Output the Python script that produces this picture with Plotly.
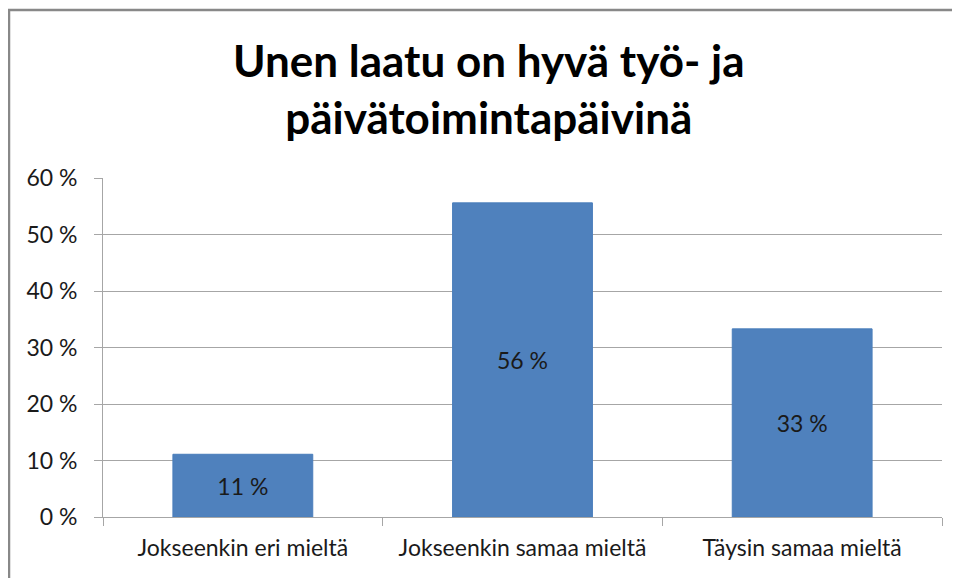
import plotly.graph_objects as go

categories = ["Jokseenkin eri mieltä", "Jokseenkin samaa mieltä", "Täysin samaa mieltä"]
values = [11.1, 55.6, 33.3]
value_labels = ["11 %", "56 %", "33 %"]
tick_vals = [0, 10, 20, 30, 40, 50, 60]
tick_text = ["0 %", "10 %", "20 %", "30 %", "40 %", "50 %", "60 %"]

# page is offset by 8px body margin
OFF = 8
W, H = 960, 578
ml, mr, mt, mb = 103 - OFF, 26, 178 - OFF, 69
pw, ph = W - ml - mr, H - mt - mb

def px_x(x):
    return (x - OFF - ml) / pw

def px_y(y):
    return (H - mb - (y - OFF)) / ph

FONT = "Lato, Open Sans, sans-serif"

fig = go.Figure(go.Bar(
    x=categories, y=values, text=value_labels, textposition="inside",
    insidetextanchor="middle", textangle=0,
    textfont=dict(family=FONT, size=23, color="#1a1a1a"),
    marker=dict(color="#4F81BD", line=dict(color="#4A7EBB", width=1)),
    width=0.5,
))

fig.update_layout(
    width=W, height=H,
    margin=dict(l=ml, r=mr, t=mt, b=mb, pad=0),
    paper_bgcolor="white", plot_bgcolor="white",
    showlegend=False,
    font=dict(family=FONT, size=23, color="#1a1a1a"),
    annotations=[dict(
        text="<b>Unen laatu on hyvä työ- ja<br>päivätoimintapäivinä</b>",
        xref="paper", yref="paper",
        x=px_x(489), y=px_y(32),
        xanchor="center", yanchor="top", showarrow=False,
        font=dict(family=FONT, size=44, color="black"),
    )],
    shapes=[
        dict(type="rect", xref="paper", yref="paper",
             x0=px_x(9), x1=px_x(1000), y0=px_y(10), y1=px_y(620),
             line=dict(color="#888888", width=2.5), fillcolor="rgba(0,0,0,0)",
             layer="above"),
    ],
)

fig.update_yaxes(
    range=[0, 60], tickvals=tick_vals, ticktext=tick_text,
    showgrid=True, gridcolor="#A6A6A6", gridwidth=1,
    showline=True, linecolor="#A6A6A6", linewidth=1,
    ticks="outside", ticklen=8, tickcolor="#A6A6A6", ticklabelstandoff=12,
    zeroline=False, fixedrange=True,
)
fig.update_xaxes(
    showline=True, linecolor="#A6A6A6", linewidth=1,
    ticks="outside", ticklen=8, tickcolor="#A6A6A6", tickson="boundaries",
    ticklabelstandoff=10,
    showgrid=False, fixedrange=True,
)

fig.write_html("out.html")
